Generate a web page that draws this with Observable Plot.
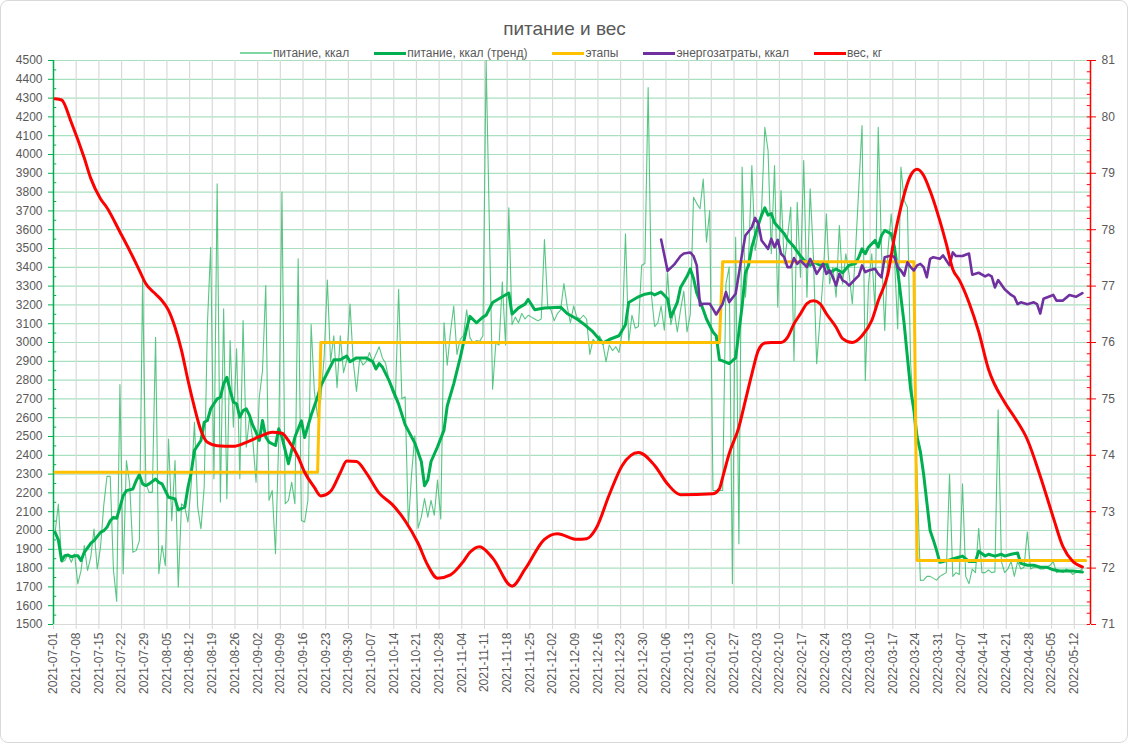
<!DOCTYPE html>
<html><head><meta charset="utf-8">
<script src="https://cdn.jsdelivr.net/npm/d3@7"></script>
<script src="https://cdn.jsdelivr.net/npm/@observablehq/plot@0.6"></script>
<style>
body{margin:0;background:#fff;font-family:"Liberation Sans",Arial,sans-serif;}
#wrap{position:relative;width:1129px;height:744px;overflow:hidden;background:#fff;}
#frame{position:absolute;left:0;top:0;width:1126px;height:741px;border:1px solid #d9d9d9;border-radius:8px;pointer-events:none;}
#title{position:absolute;left:0;width:1129px;top:18px;text-align:center;font-size:19px;color:#595959;}
#legend{position:absolute;left:0;width:1122px;top:46px;display:flex;justify-content:center;gap:25px;font-size:12px;color:#595959;white-space:nowrap;}
.it{display:flex;align-items:center;gap:1px;line-height:14px;}
.sw{display:inline-block;width:32px;}
#chart{position:absolute;left:0;top:0;}
</style></head><body>
<div id="wrap">
 <div id="chart"></div>
 <div id="title">питание и вес</div>
 <div id="legend"></div>
 <div id="frame"></div>
</div>
<script>
// ---- data (day number from 2021-07-01, value) ----
const seriesNames = ["питание, ккал", "питание, ккал (тренд)", "этапы", "энергозатраты, ккал", "вес, кг"];
const seriesColors = ["#3dbb6e", "#00b050", "#ffc000", "#7030a0", "#ff0000"];
const xTickLabels = ["2021-07-01","2021-07-08","2021-07-15","2021-07-22","2021-07-29","2021-08-05","2021-08-12","2021-08-19","2021-08-26","2021-09-02","2021-09-09","2021-09-16","2021-09-23","2021-09-30","2021-10-07","2021-10-14","2021-10-21","2021-10-28","2021-11-04","2021-11-11","2021-11-18","2021-11-25","2021-12-02","2021-12-09","2021-12-16","2021-12-23","2021-12-30","2022-01-06","2022-01-13","2022-01-20","2022-01-27","2022-02-03","2022-02-10","2022-02-17","2022-02-24","2022-03-03","2022-03-10","2022-03-17","2022-03-24","2022-03-31","2022-04-07","2022-04-14","2022-04-21","2022-04-28","2022-05-05","2022-05-12"];
const kcalTicks = [1500,1600,1700,1800,1900,2000,2100,2200,2300,2400,2500,2600,2700,2800,2900,3000,3100,3200,3300,3400,3500,3600,3700,3800,3900,4000,4100,4200,4300,4400,4500];
const kgTicks = [71,72,73,74,75,76,77,78,79,80,81];

const intake = [[0,1990],[1,2141],[2,1831],[3,1840],[4,1872],[5,1831],[6,1875],[7,1716],[8,1787],[9,1920],[10,1787],[11,1858],[12,2008],[13,1795],[14,1910],[15,2132],[16,2288],[17,2288],[18,1790],[19,1623],[20,2776],[21,1770],[22,2372],[23,2248],[24,1884],[25,1893],[26,1946],[27,3338],[28,2248],[29,2203],[30,2203],[31,3028],[32,1770],[33,1920],[34,1813],[35,2487],[36,2052],[37,2372],[38,1700],[39,2142],[40,2124],[41,2045],[42,2248],[43,2576],[44,2124],[45,2009],[46,2230],[47,3099],[48,3507],[49,2275],[50,3844],[51,2151],[52,3179],[53,2169],[54,3011],[55,2550],[56,2966],[57,2275],[58,3117],[59,2443],[60,2603],[61,2479],[62,2257],[63,2709],[64,2851],[65,3303],[66,2160],[67,2213],[68,1876],[69,2479],[70,3800],[71,2142],[72,2160],[73,2257],[74,2142],[75,3445],[76,2053],[77,2045],[78,2160],[79,3095],[80,2740],[81,2603],[82,2701],[83,2918],[84,3332],[85,2898],[86,3036],[87,2760],[88,3036],[89,2840],[90,2908],[91,3204],[92,2898],[93,2740],[94,2918],[95,2880],[96,2898],[97,2947],[98,2898],[99,2937],[100,2977],[101,2918],[102,2888],[103,2800],[104,2740],[105,2700],[106,3283],[107,2701],[108,2711],[109,2022],[110,2300],[111,2504],[112,2012],[113,2071],[114,2170],[115,2071],[116,2160],[117,2081],[118,2268],[119,2061],[120,3105],[121,2879],[122,3056],[123,3194],[124,2937],[125,3016],[126,3036],[127,3174],[128,3026],[129,2997],[130,3010],[131,3006],[132,3036],[133,4500],[135,2751],[136,2997],[137,2987],[138,3322],[139,2987],[140,3716],[141,3095],[142,3135],[143,3105],[144,3154],[145,3125],[146,3145],[147,3135],[148,3125],[149,3115],[150,3125],[151,3548],[152,3194],[153,3174],[154,3115],[155,3154],[156,3174],[157,3313],[158,3194],[159,3105],[160,3194],[161,3135],[162,3125],[163,3145],[164,3125],[165,2937],[166,3016],[167,2997],[168,3036],[169,2997],[170,2898],[171,2987],[172,2957],[173,2977],[174,2947],[175,3056],[176,3578],[177,3000],[178,3145],[179,3076],[180,3085],[181,3411],[182,3420],[183,4356],[184,3253],[185,3085],[186,3105],[187,3194],[188,3065],[189,3371],[190,3095],[191,3174],[192,3056],[193,3174],[194,3273],[195,3056],[196,3150],[197,3773],[198,3740],[199,3711],[200,3870],[201,3534],[202,3702],[203,2213],[204,2213],[205,2213],[206,2213],[207,3312],[208,3401],[209,1717],[210,3560],[211,1929],[212,3933],[213,3241],[214,3454],[215,3941],[216,3489],[217,3588],[218,3702],[219,4145],[220,4021],[221,3472],[222,3941],[223,3188],[224,3808],[225,3418],[226,3560],[227,3720],[228,2904],[229,3746],[230,3347],[231,3968],[232,3241],[233,3817],[234,3454],[235,2887],[237,3347],[238,3684],[239,3312],[240,3400],[241,3241],[242,3622],[243,3312],[244,3472],[245,3365],[246,3206],[247,3489],[249,4154],[250,2798],[251,3312],[252,3472],[253,3170],[254,4145],[255,3489],[256,3064],[257,3489],[258,3684],[259,3454],[260,3073],[261,3933],[262,3756],[263,3720],[264,2887],[265,2600],[266,2300],[267,1734],[268,1736],[269,1756],[270,1756],[272,1736],[273,1756],[274,1766],[275,1776],[276,2298],[277,1756],[278,1776],[279,1766],[280,2248],[281,1756],[282,1717],[283,1795],[284,1776],[285,2012],[286,1776],[287,1776],[288,1790],[289,1776],[290,1780],[291,2642],[292,1835],[293,1776],[294,1795],[295,1835],[296,1756],[297,1835],[298,1795],[299,1805],[300,1992],[301,1795],[302,1805],[303,1805],[304,1795],[305,1795],[306,1805],[307,1815],[308,1835],[309,1776],[310,1785],[311,1776],[312,1795],[313,1785],[314,1766],[315,1776],[316,1785],[317,1795]];

const intakeTrend = [[0,1990],[1,1950],[2,1840],[3,1866],[4,1870],[5,1860],[6,1866],[7,1866],[8,1840],[9,1884],[11,1932],[12,1946],[14,1990],[15,1999],[16,2017],[17,2052],[18,2070],[19,2065],[20,2123],[21,2185],[22,2212],[24,2221],[25,2265],[26,2297],[27,2248],[28,2239],[29,2248],[31,2274],[32,2256],[33,2248],[34,2212],[35,2177],[37,2168],[38,2110],[40,2124],[41,2230],[42,2310],[43,2426],[45,2479],[46,2576],[47,2585],[48,2647],[49,2674],[50,2700],[51,2709],[52,2780],[53,2815],[54,2745],[55,2683],[56,2674],[57,2603],[58,2638],[59,2647],[60,2612],[61,2559],[62,2523],[63,2479],[64,2585],[65,2497],[66,2470],[68,2452],[69,2541],[70,2497],[71,2426],[72,2355],[73,2426],[74,2497],[75,2541],[76,2583],[77,2495],[79,2613],[81,2711],[82,2770],[84,2839],[86,2908],[88,2908],[89,2918],[90,2928],[91,2898],[93,2918],[96,2918],[98,2898],[99,2859],[100,2888],[101,2869],[103,2800],[106,2672],[108,2563],[111,2465],[113,2367],[114,2238],[115,2268],[116,2367],[118,2445],[120,2534],[121,2662],[123,2780],[125,2918],[127,3076],[128,3139],[130,3105],[132,3135],[133,3145],[135,3213],[138,3243],[140,3263],[141,3151],[143,3184],[145,3204],[146,3229],[148,3174],[151,3184],[156,3188],[158,3154],[161,3125],[163,3100],[166,3056],[168,3016],[169,2997],[171,3016],[174,3036],[176,3095],[177,3213],[180,3243],[182,3257],[184,3263],[185,3253],[187,3269],[189,3233],[190,3135],[192,3213],[193,3293],[195,3352],[196,3391],[197,3342],[198,3263],[200,3174],[201,3125],[203,3056],[204,3036],[205,2908],[206,2902],[208,2888],[210,2918],[211,3056],[212,3194],[213,3371],[214,3411],[215,3509],[217,3627],[218,3677],[219,3716],[220,3677],[221,3686],[222,3637],[223,3617],[225,3578],[226,3548],[228,3509],[230,3460],[231,3440],[233,3411],[234,3430],[236,3411],[238,3420],[239,3371],[241,3391],[243,3371],[245,3411],[247,3420],[248,3454],[249,3498],[250,3472],[251,3507],[253,3543],[254,3507],[255,3569],[256,3596],[258,3578],[259,3507],[260,3383],[261,3241],[262,3099],[263,2922],[264,2750],[265,2640],[266,2497],[267,2420],[268,2300],[269,2150],[270,2000],[271,1950],[272,1894],[273,1831],[274,1835],[276,1844],[278,1854],[280,1864],[282,1835],[284,1835],[285,1890],[287,1864],[288,1874],[290,1864],[292,1874],[293,1864],[295,1874],[297,1880],[298,1825],[300,1815],[302,1815],[304,1805],[306,1805],[308,1791],[310,1785],[312,1785],[314,1785],[317,1779]];

const stages = [[0,2310],[81,2310],[82,3000],[205,3000],[206,3430],[265,3430],[266,1840],[318,1840]];

const expenditure = [[187,3548],[189,3381],[191,3414],[193,3460],[194,3473],[196,3479],[197,3460],[198,3410],[199,3197],[200,3206],[202,3206],[203,3179],[204,3149],[206,3206],[207,3268],[208,3215],[210,3259],[211,3365],[212,3472],[213,3569],[215,3613],[216,3663],[217,3631],[218,3543],[220,3498],[221,3551],[222,3507],[223,3546],[224,3472],[225,3454],[226,3401],[227,3401],[228,3449],[229,3418],[230,3436],[232,3401],[233,3445],[234,3410],[235,3365],[237,3418],[238,3365],[239,3383],[240,3347],[241,3303],[242,3365],[243,3330],[244,3321],[245,3303],[247,3339],[248,3356],[249,3410],[250,3374],[251,3383],[253,3392],[254,3365],[255,3347],[256,3454],[258,3463],[259,3454],[260,3401],[261,3383],[262,3356],[263,3427],[264,3401],[265,3383],[266,3410],[267,3418],[268,3401],[269,3347],[270,3445],[271,3454],[273,3445],[274,3463],[276,3411],[277,3479],[278,3460],[280,3460],[282,3473],[283,3361],[285,3371],[287,3352],[288,3361],[289,3352],[290,3293],[291,3332],[293,3283],[295,3253],[296,3243],[297,3204],[298,3214],[300,3204],[302,3214],[303,3204],[304,3154],[305,3233],[308,3253],[309,3223],[311,3223],[313,3253],[315,3243],[317,3263]];

const weight = [[0,80.32],[2,80.30],[5,79.90],[9,79.27],[11,78.91],[14,78.55],[16,78.39],[20,77.96],[23,77.63],[26,77.28],[28,77.04],[31,76.86],[33,76.74],[35,76.57],[37,76.27],[39,75.86],[41,75.33],[43,74.85],[45,74.44],[47,74.23],[50,74.17],[55,74.16],[59,74.23],[63,74.33],[67,74.41],[70,74.39],[72,74.26],[75,73.97],[77,73.70],[80,73.43],[82,73.28],[85,73.36],[88,73.69],[90,73.90],[93,73.89],[96,73.69],[100,73.33],[104,73.13],[108,72.84],[112,72.44],[115,72.05],[118,71.82],[122,71.88],[126,72.12],[128,72.28],[131,72.38],[135,72.18],[141,71.68],[145,71.98],[151,72.51],[155,72.61],[161,72.51],[164,72.52],[167,72.71],[171,73.30],[175,73.82],[180,74.05],[185,73.82],[189,73.49],[193,73.30],[203,73.32],[205,73.41],[206,73.61],[208,74.03],[211,74.50],[213,74.97],[215,75.44],[217,75.86],[219,75.99],[221,76.0],[224,76.0],[226,76.09],[228,76.33],[230,76.51],[232,76.69],[234,76.74],[236,76.69],[238,76.51],[241,76.27],[243,76.07],[246,76.0],[249,76.12],[252,76.39],[254,76.74],[257,77.22],[259,77.87],[261,78.40],[264,78.96],[266,79.07],[268,78.96],[270,78.69],[273,78.16],[275,77.75],[277,77.30],[279,77.11],[282,76.71],[285,76.19],[288,75.53],[293,74.94],[296,74.68],[300,74.28],[304,73.63],[308,72.90],[311,72.38],[314,72.12],[317,72.02]];

// ---- helpers ----
const t0 = Date.UTC(2021, 6, 1);
const DAY = 864e5;
const start = new Date(t0);
const end = new Date(Date.UTC(2022, 4, 17));
const dayDate = d => new Date(t0 + (d + 0.5) * DAY);   // Excel draws points mid-category
const kgToY = kg => 1500 + (kg - 71) * 300;           // secondary axis mapped onto primary
const yToKg = y => String(Math.round((y - 1500) / 300 + 71));
const rows = arr => arr.map(([d, v]) => ({date: dayDate(d), v}));
const xTicks = xTickLabels.map(s => new Date(s + "T00:00:00Z"));
const minorLeft = kcalTicks.slice(0, -1).map(v => ({y: v + 50, x1: start, x2: new Date(t0 + DAY)}));
const minorRight = d3.range(71, 81.01, 0.2).map(k => ({y: kgToY(k), x1: new Date(+end - DAY), x2: end}));
const font = '"Liberation Sans", Arial, sans-serif';

// ---- legend ----
const lg = document.getElementById("legend");
seriesNames.forEach((n, i) => {
  const it = document.createElement("div"); it.className = "it";
  const sw = document.createElement("span"); sw.className = "sw";
  sw.style.borderTop = (i === 0 ? 2 : 3) + "px solid " + (i === 0 ? "#7fd6a2" : seriesColors[i]);
  const tx = document.createElement("span"); tx.textContent = n;
  it.appendChild(sw); it.appendChild(tx); lg.appendChild(it);
});

// ---- chart ----
const chart = Plot.plot({
  width: 1129, height: 744,
  marginTop: 60, marginBottom: 120, marginLeft: 53, marginRight: 39,
  style: {fontFamily: font, fontSize: "12px", background: "transparent", color: "#595959"},
  x: {type: "utc", domain: [start, end]},
  y: {domain: [1500, 4500]},
  marks: [
    Plot.gridY(kcalTicks, {stroke: "#a9e0bf", strokeOpacity: 1, strokeWidth: 1.2}),
    Plot.gridX(xTicks, {stroke: "#d9d9d9", strokeOpacity: 1, strokeWidth: 1.2}),
    Plot.ruleY([1500], {stroke: "#d9d9d9", strokeWidth: 1.2}),
    Plot.axisX(xTicks, {anchor: "bottom", tickRotate: -90, tickSize: 5, tickPadding: 3,
      tickFormat: d3.utcFormat("%Y-%m-%d"), stroke: "#d9d9d9", fill: "#595959", label: null, fontSize: 12}),
    Plot.axisY(kcalTicks, {anchor: "left", tickSize: 5, tickPadding: 6, tickFormat: d => String(d),
      stroke: "#00b050", fill: "#595959", label: null, fontSize: 12}),
    Plot.ruleY(minorLeft, {y: "y", x1: "x1", x2: "x2", stroke: "#00b050"}),
    Plot.axisY(kgTicks.map(kgToY), {anchor: "right", tickSize: 5, tickPadding: 6, tickFormat: yToKg,
      stroke: "#ff0000", fill: "#595959", label: null, fontSize: 12}),
    Plot.ruleY(minorRight, {y: "y", x1: "x1", x2: "x2", stroke: "#ff0000"}),
    Plot.ruleX([start], {stroke: "#00b050", strokeWidth: 1.5}),
    Plot.ruleX([end], {stroke: "#ff0000", strokeWidth: 1.5}),
    Plot.line(rows(intake), {x: "date", y: "v", stroke: seriesColors[0], strokeWidth: 1.1, strokeOpacity: 0.85}),
    Plot.line(rows(intakeTrend), {x: "date", y: "v", stroke: seriesColors[1], strokeWidth: 3, strokeLinejoin: "round"}),
    Plot.line(rows(stages), {x: "date", y: "v", stroke: seriesColors[2], strokeWidth: 3}),
    Plot.line(rows(expenditure), {x: "date", y: "v", stroke: seriesColors[3], strokeWidth: 2.6, strokeLinejoin: "round"}),
    Plot.line(weight.map(([d, k]) => ({date: dayDate(d), v: kgToY(k)})), {x: "date", y: "v", stroke: seriesColors[4], strokeWidth: 3, curve: "monotone-x"})
  ]
});
document.getElementById("chart").appendChild(chart);
</script>
</body></html>
